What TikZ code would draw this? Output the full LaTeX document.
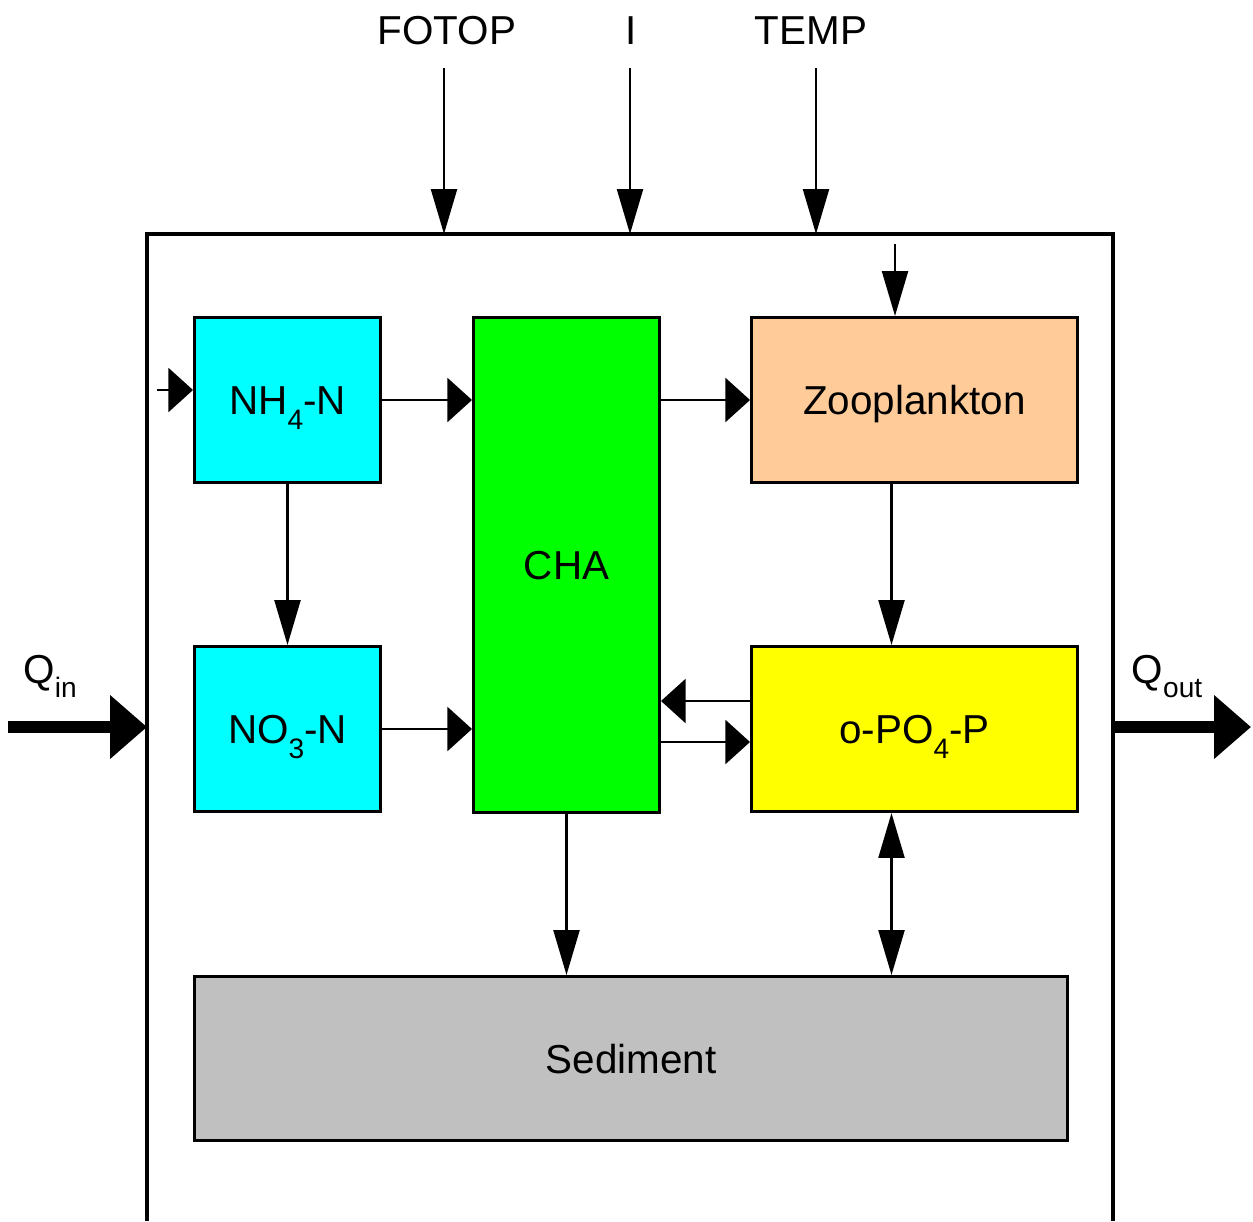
\documentclass[tikz,border=0pt]{standalone}
\usepackage{fontspec}
\setmainfont{Liberation Sans}
\usetikzlibrary{arrows.meta,calc}
\definecolor{cnh}{HTML}{00FFFF}
\definecolor{ccha}{HTML}{00FF00}
\definecolor{czoo}{HTML}{FFCC99}
\definecolor{cpo}{HTML}{FFFF00}
\definecolor{csed}{HTML}{C0C0C0}
\newcommand{\lowsub}[1]{\raisebox{-0.36em}{\fontsize{16}{16}\selectfont #1}}
\tikzset{
  box/.style={draw=black, line width=1.7pt, inner sep=0pt, anchor=north west},
  txt/.style={font=\fontsize{23}{27}\selectfont, inner sep=0pt, anchor=base, yshift=-0.29cm},
  lbl/.style={font=\fontsize{23}{27}\selectfont, inner sep=0pt, anchor=base},
  arrv/.style={line width=1.45pt, -{Triangle[length=25.5pt,width=14.7pt]}},
  arrvv/.style={line width=1.45pt, {Triangle[length=25.5pt,width=14.7pt]}-{Triangle[length=25.5pt,width=14.7pt]}},
  arrh/.style={line width=1.45pt, -{Triangle[length=14pt,width=25pt]}},
  arrq/.style={line width=6.8pt, -{Triangle[length=21pt,width=35pt]}},
}
\begin{document}
\begin{tikzpicture}[x=0.02cm,y=-0.02cm]
\useasboundingbox (0,0) rectangle (1253,1221);
% outer box (open at the bottom, cut by the page edge)
\coordinate (obl) at (147,1221);
\coordinate (obr) at (1113,1221);
\draw[line width=1.8pt] (obl) -- (147,234) -- (1113,234) -- (obr);
% boxes
\node[box, fill=cnh, minimum width=186*0.02cm, minimum height=165*0.02cm] (nh4) at (193,316) {};
\node[txt] at (nh4.center) {NH\lowsub{4}-N};
\node[box, fill=cnh, minimum width=186*0.02cm, minimum height=165*0.02cm] (no3) at (193,645) {};
\node[txt] at (no3.center) {NO\lowsub{3}-N};
\node[box, fill=ccha, minimum width=186*0.02cm, minimum height=495*0.02cm] (cha) at (472,316) {};
\node[txt] at (cha.center) {CHA};
\node[box, fill=czoo, minimum width=326*0.02cm, minimum height=165*0.02cm] (zoo) at (750,316) {};
\node[txt] at (zoo.center) {Zooplankton};
\node[box, fill=cpo, minimum width=326*0.02cm, minimum height=165*0.02cm] (opo) at (750,645) {};
\node[txt] at (opo.center) {o-PO\lowsub{4}-P};
\node[box, fill=csed, minimum width=873*0.02cm, minimum height=164*0.02cm] (sed) at (193,975) {};
\node[txt] at (sed.center) {Sediment};
% top labels
\node[lbl] (fotop) at (447,44) {FOTOP};
\node[lbl] (ilab) at (631,44) {I};
\node[lbl] (temp) at (811,44) {TEMP};
\coordinate (ft) at (444,234);
\coordinate (it) at (630,234);
\coordinate (tt) at (816,234);
\draw[arrv] (444,68) -- (ft);
\draw[arrv] (630,68) -- (it);
\draw[arrv] (816,68) -- (tt);
% side flows
\node[lbl] (qin) at (50,683) {Q\lowsub{in}};
\node[lbl] (qout) at (1167,683) {Q\lowsub{out}};
\coordinate (qins) at (8,727);
\coordinate (qine) at (147,727);
\coordinate (qouts) at (1113,727);
\coordinate (qoute) at (1251,727);
\draw[arrq] (qins) -- (qine);
\draw[arrq] (qouts) -- (qoute);
% small inputs
\coordinate (zin) at (895,244);
\draw[arrv] (zin) -- (zin |- zoo.north);
\coordinate (nin) at (157,390);
\draw[arrh] (nin) -- (nin -| nh4.west);
% internal connectors
\coordinate (pa) at ($(opo.west)+(0,-28)$);
\coordinate (pb) at ($(opo.west)+(0,13)$);
\coordinate (zs) at ($(zoo.south)+(-23,0)$);
\coordinate (ps) at ($(opo.south)+(-23,0)$);
\draw[arrh] (nh4.east) -- (cha.west |- nh4.east);
\draw[arrh] (cha.east |- zoo.west) -- (zoo.west);
\draw[arrh] (no3.east) -- (cha.west |- no3.east);
\draw[arrh] (pa) -- (cha.east |- pa);
\draw[arrh] (cha.east |- pb) -- (pb);
\draw[arrv] (nh4.south) -- (no3.north);
\draw[arrv] (zs) -- (zs |- opo.north);
\draw[arrv] (cha.south) -- (cha.south |- sed.north);
\draw[arrvv] (ps) -- (ps |- sed.north);
\end{tikzpicture}
\end{document}
